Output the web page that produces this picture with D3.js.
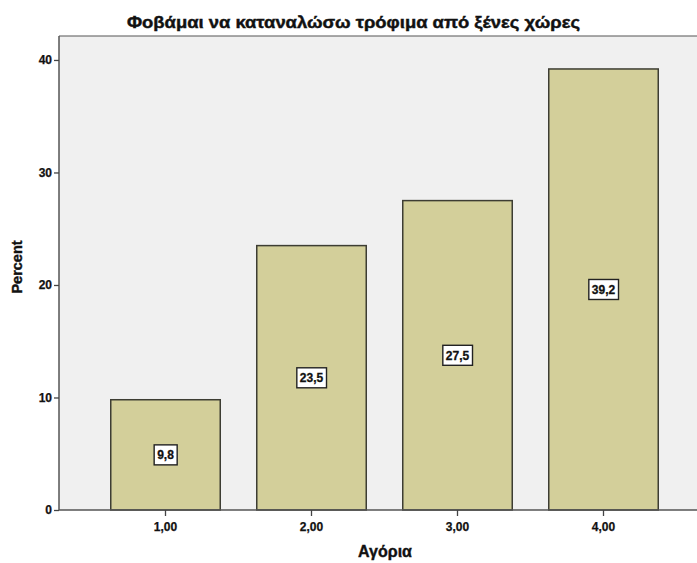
<!DOCTYPE html>
<html>
<head>
<meta charset="utf-8">
<script src="https://cdn.jsdelivr.net/npm/d3@7"></script>
<style>
  html, body { margin: 0; padding: 0; background: #ffffff; }
  svg { display: block; }
  text { font-family: "Liberation Sans", Arial, sans-serif; font-weight: bold; fill: #111; }
</style>
</head>
<body>
<script>
const categories = ["1,00", "2,00", "3,00", "4,00"];
const percents = [9.8, 23.5, 27.5, 39.2];
const valueLabels = ["9,8", "23,5", "27,5", "39,2"];
const yTicks = [0, 10, 20, 30, 40];

const chartTitle = "Φοβάμαι να καταναλώσω τρόφιμα από ξένες χώρες";
const xTitle = "Αγόρια";
const yTitle = "Percent";

const W = 697, H = 563;
const plot = { left: 59, right: 697, top: 36, bottom: 510 };

const svg = d3.select("body").append("svg")
  .attr("width", W).attr("height", H);

const x = d3.scaleBand()
  .domain(categories)
  .range([92.5, 676.5])
  .paddingInner(0.25)
  .paddingOuter(0.125);

const y = d3.scaleLinear()
  .domain([0, 42.13])
  .range([plot.bottom, plot.top]);

// heavier strokes on text to mimic a black-weight face
function heavy(sel, w) {
  sel.attr("stroke", "#111").attr("stroke-width", w).attr("paint-order", "stroke");
}

// plot background
svg.append("rect")
  .attr("x", plot.left).attr("y", plot.top)
  .attr("width", plot.right - plot.left)
  .attr("height", plot.bottom - plot.top)
  .attr("fill", "#f0f0f0");

// top frame line
svg.append("line")
  .attr("x1", plot.left).attr("x2", plot.right)
  .attr("y1", plot.top).attr("y2", plot.top)
  .attr("stroke", "#555").attr("stroke-width", 1.2);

// bars
svg.append("g").selectAll("rect")
  .data(percents)
  .join("rect")
  .attr("x", (d, i) => x(categories[i]))
  .attr("y", d => y(d))
  .attr("width", x.bandwidth())
  .attr("height", d => y(0) - y(d))
  .attr("fill", "#d3cf9a")
  .attr("stroke", "#3d3d33")
  .attr("stroke-width", 1.5);

// value labels in boxes at half bar height
const lab = svg.append("g").selectAll("g")
  .data(percents)
  .join("g")
  .attr("transform", (d, i) => `translate(${x(categories[i]) + x.bandwidth() / 2},${y(d / 2)})`);

lab.append("text")
  .attr("text-anchor", "middle")
  .attr("dy", "0.36em")
  .style("font-size", "12px")
  .call(heavy, 0.3)
  .text((d, i) => valueLabels[i])
  .each(function () {
    const bb = this.getBBox();
    d3.select(this.parentNode).insert("rect", "text")
      .attr("x", bb.x - 3).attr("y", -10)
      .attr("width", bb.width + 6).attr("height", 20)
      .attr("fill", "#ffffff")
      .attr("stroke", "#222")
      .attr("stroke-width", 1.4);
  });

// y axis
const yAxis = svg.append("g")
  .attr("transform", `translate(${plot.left},0)`)
  .call(d3.axisLeft(y).tickValues(yTicks).tickFormat(d3.format("d")).tickSize(5).tickPadding(2));
yAxis.select(".domain").attr("stroke", "#555").attr("stroke-width", 1.5)
  .attr("d", `M0,${plot.top}V${plot.bottom}`);
yAxis.selectAll(".tick line").attr("stroke", "#444").attr("stroke-width", 1.3);
yAxis.selectAll(".tick text").style("font-size", "12px").attr("fill", "#111")
  .style("font-family", "'Liberation Sans', Arial, sans-serif").style("font-weight", "bold")
  .call(heavy, 0.25);

// x axis
const xAxis = svg.append("g")
  .attr("transform", `translate(0,${plot.bottom})`)
  .call(d3.axisBottom(x).tickSize(6).tickPadding(6));
xAxis.select(".domain").attr("stroke", "#555").attr("stroke-width", 1.5)
  .attr("d", `M${plot.left},0H${plot.right}`);
xAxis.selectAll(".tick line").attr("stroke", "#444").attr("stroke-width", 1.3);
xAxis.selectAll(".tick text").style("font-size", "12px").attr("fill", "#111")
  .style("font-family", "'Liberation Sans', Arial, sans-serif").style("font-weight", "bold")
  .call(heavy, 0.25);

// titles
svg.append("text")
  .attr("x", 353.5).attr("y", 28)
  .attr("text-anchor", "middle")
  .style("font-size", "17px")
  .attr("textLength", 453).attr("lengthAdjust", "spacingAndGlyphs")
  .call(heavy, 0.45)
  .text(chartTitle);

svg.append("text")
  .attr("x", 385).attr("y", 557)
  .attr("text-anchor", "middle")
  .style("font-size", "16px")
  .call(heavy, 0.4)
  .text(xTitle);

svg.append("text")
  .attr("transform", `translate(22,${(plot.top + plot.bottom) / 2 - 6}) rotate(-90)`)
  .attr("text-anchor", "middle")
  .style("font-size", "14.5px")
  .call(heavy, 0.4)
  .text(yTitle);
</script>
</body>
</html>
